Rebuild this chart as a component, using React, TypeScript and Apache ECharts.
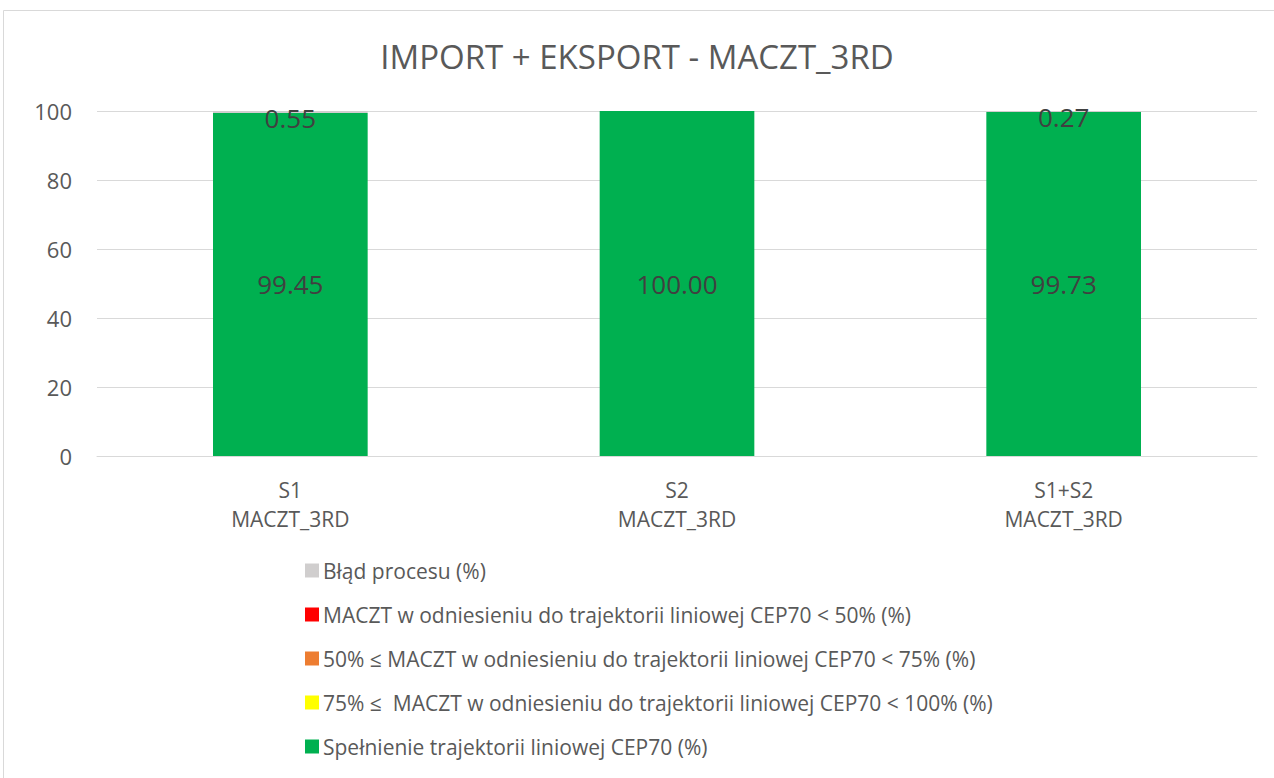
import React, { useEffect, useRef } from "react";
import * as echarts from "echarts";

const categories = ["S1\nMACZT_3RD", "S2\nMACZT_3RD", "S1+S2\nMACZT_3RD"];
const seriesNames = [
  "Spełnienie trajektorii liniowej CEP70 (%)",
  "75% ≤  MACZT w odniesieniu do trajektorii liniowej CEP70 < 100% (%)",
  "50% ≤ MACZT w odniesieniu do trajektorii liniowej CEP70 < 75% (%)",
  "MACZT w odniesieniu do trajektorii liniowej CEP70 < 50% (%)",
  "Błąd procesu (%)",
];
const greenValues = [99.45, 100.0, 99.73];
const yellowValues = [0, 0, 0];
const orangeValues = [0, 0, 0];
const redValues = [0, 0, 0];
const greyValues = [0.55, 0, 0.27];
const seriesColors = ["#00B050", "#FFFF00", "#ED7D31", "#FF0000", "#D0CECE"];
const yTicks = { min: 0, max: 100, interval: 20 };

export default function App() {
  const ref = useRef<HTMLDivElement>(null);
  useEffect(() => {
    if (!ref.current) return;
    const chart = echarts.init(ref.current, undefined, { renderer: "svg" });
    const values = [greenValues, yellowValues, orangeValues, redValues, greyValues];
    const font = "'Open Sans', 'Noto Sans', sans-serif";
    chart.setOption({
      animation: false,
      backgroundColor: "#FFFFFF",
      textStyle: { fontFamily: font },
      title: {
        text: "IMPORT + EKSPORT - MACZT_3RD",
        left: "center",
        top: 35,
        textStyle: { fontSize: 33, fontWeight: "normal", color: "#595959", fontFamily: font },
      },
      graphic: [
        {
          type: "rect",
          shape: { x: 3.5, y: 10.5, width: 1290, height: 790 },
          style: { fill: "none", stroke: "#D9D9D9", lineWidth: 1 },
          silent: true,
        },
      ],
      grid: { left: 97, right: 17, top: 111, bottom: 322, containLabel: false },
      legend: {
        orient: "vertical",
        left: 300,
        top: 555,
        itemGap: 23,
        itemWidth: 14,
        itemHeight: 14,
        icon: "rect",
        data: [seriesNames[4], seriesNames[3], seriesNames[2], seriesNames[1], seriesNames[0]],
        textStyle: { fontSize: 21, color: "#595959", fontFamily: font, padding: [0, 0, 0, -1] },
      },
      xAxis: {
        type: "category",
        data: categories,
        axisTick: { show: false },
        axisLine: { lineStyle: { color: "#D9D9D9", width: 1 } },
        axisLabel: { color: "#595959", fontSize: 21, lineHeight: 29, margin: 19, fontFamily: font },
      },
      yAxis: {
        type: "value",
        min: yTicks.min,
        max: yTicks.max,
        interval: yTicks.interval,
        axisLine: { show: false },
        axisTick: { show: false },
        splitLine: { lineStyle: { color: "#D9D9D9", width: 1 } },
        axisLabel: { color: "#595959", fontSize: 22, margin: 25, fontFamily: font },
      },
      series: seriesNames.map((name, i) => ({
        name,
        type: "bar",
        stack: "total",
        barWidth: "40%",
        itemStyle: { color: seriesColors[i] },
        data: values[i],
        label: {
          show: true,
          position: "inside",
          color: "#404040",
          fontSize: 26,
          fontFamily: font,
          offset: i === 4 ? [0, 6] : [0, 0],
          formatter: (p: any) => (p.value ? Number(p.value).toFixed(2) : ""),
        },
      })),
    });
    return () => chart.dispose();
  }, []);
  return (
    <div
      ref={ref}
      style={{ position: "fixed", left: 0, top: 0, width: 1274, height: 778 }}
    />
  );
}
